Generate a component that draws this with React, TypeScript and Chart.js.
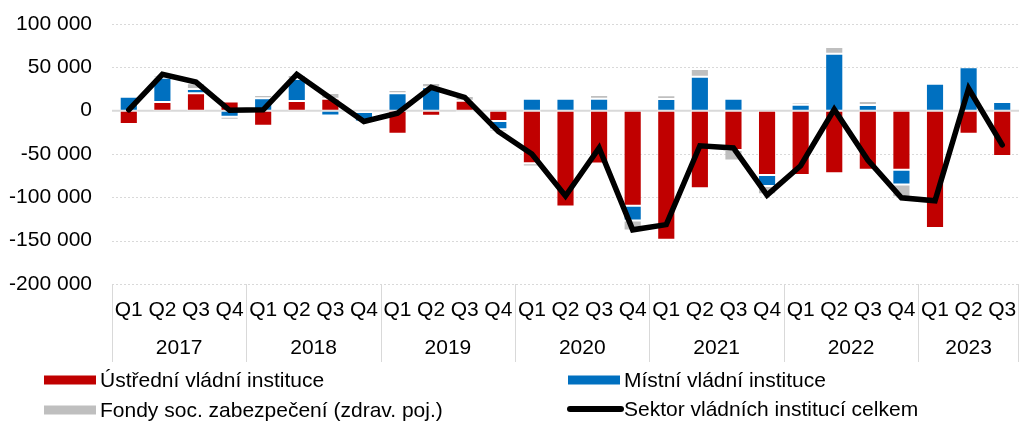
import React, { useEffect, useRef } from "react";
import { Chart, registerables } from "chart.js";

Chart.register(...registerables);

const quarterLabels = [
  "Q1", "Q2", "Q3", "Q4",
  "Q1", "Q2", "Q3", "Q4",
  "Q1", "Q2", "Q3", "Q4",
  "Q1", "Q2", "Q3", "Q4",
  "Q1", "Q2", "Q3", "Q4",
  "Q1", "Q2", "Q3", "Q4",
  "Q1", "Q2", "Q3",
];
const yearLabels = ["2017", "2018", "2019", "2020", "2021", "2022", "2023"];
const quartersPerYear = [4, 4, 4, 4, 4, 4, 3];

const centralGov = [
  -15500, 10000, 20000, 10500,
  -17300, 11200, 13800, -1500,
  -26500, -6000, 11500, -11900,
  -60600, -110600, -61000, -109800,
  -149000, -89400, -45300, -74100,
  -74100, -72100, -68300, -68300,
  -135500, -26500, -52200,
];
const localGov = [
  16000, 28000, 5000, -7000,
  14300, 25300, -5700, -11000,
  20000, 27000, -1500, -9600,
  13800, 13800, 13800, -16900,
  13500, 39200, 13800, -12700,
  6900, 65700, 6600, -16900,
  31000, 50000, 10000,
];
const socialFunds = [
  500, 3000, 6500, -3500,
  3800, 4600, 6500, 0,
  3800, 5000, 5400, -2700,
  -3800, -1900, 4200, -11500,
  4200, 8900, -12300, -9600,
  2700, 7700, 4600, -14600,
  500, 1500, 2300,
];
const totalGov = [
  1000, 42000, 33000, 500,
  1000, 42000, 14500, -12500,
  -3000, 27000, 15400, -24000,
  -50000, -98500, -43000, -137500,
  -131500, -40500, -43000, -97500,
  -63500, 1500, -57000, -100500,
  -104000, 25500, -39500,
];

const seriesNames = [
  "Ústřední vládní instituce",
  "Místní vládní instituce",
  "Fondy soc. zabezpečení (zdrav. poj.)",
  "Sektor vládních institucí celkem",
];

const yMin = -200000;
const yMax = 100000;
const yStep = 50000;

const RED = "#C00000";
const BLUE = "#0070C0";
const GREY = "#BFBFBF";
const BLACK = "#000000";
const GRID = "#D9D9D9";
const FONT = "'Liberation Sans', Arial, sans-serif";
const FONT_SIZE = 21;

function fmt(v: number): string {
  const s = Math.abs(v).toString().replace(/\B(?=(\d{3})+(?!\d))/g, " ");
  return (v < 0 ? "-" : "") + s;
}

const gridPlugin = {
  id: "customGrid",
  beforeDatasetsDraw(chart: any) {
    const { ctx, chartArea, scales } = chart;
    const y = scales.y;
    ctx.save();
    for (let v = yMin; v <= yMax; v += yStep) {
      if (v === 0) continue;
      const py = Math.round(y.getPixelForValue(v)) + 0.5;
      ctx.beginPath();
      ctx.strokeStyle = GRID;
      ctx.lineWidth = 1;
      ctx.setLineDash([2, 2]);
      ctx.moveTo(chartArea.left, py);
      ctx.lineTo(chartArea.right, py);
      ctx.stroke();
    }
    const zy = y.getPixelForValue(0);
    ctx.setLineDash([]);
    ctx.beginPath();
    ctx.strokeStyle = GRID;
    ctx.lineWidth = 2;
    ctx.moveTo(chartArea.left, zy);
    ctx.lineTo(chartArea.right, zy);
    ctx.stroke();
    ctx.restore();
  },
};

const axisLegendPlugin = {
  id: "axisLegend",
  afterDraw(chart: any) {
    const { ctx, chartArea, scales } = chart;
    const x = scales.x;
    const n = quarterLabels.length;
    const cw = (chartArea.right - chartArea.left) / n;
    ctx.save();
    ctx.strokeStyle = GRID;
    ctx.lineWidth = 1;
    ctx.setLineDash([]);
    let idx = 0;
    const bounds: number[] = [0];
    quartersPerYear.forEach((c) => {
      idx += c;
      bounds.push(idx);
    });
    bounds.forEach((b) => {
      let px = chartArea.left + b * cw;
      px = Math.min(Math.round(px) + 0.5, chartArea.right - 0.5);
      ctx.beginPath();
      ctx.moveTo(px, chartArea.bottom);
      ctx.lineTo(px, chartArea.bottom + 78);
      ctx.stroke();
    });
    ctx.fillStyle = "#000";
    ctx.font = `${FONT_SIZE}px ${FONT}`;
    ctx.textAlign = "center";
    ctx.textBaseline = "middle";
    quarterLabels.forEach((q, i) => {
      ctx.fillText(q, x.getPixelForValue(i), chartArea.bottom + 26);
    });
    let start = 0;
    yearLabels.forEach((yr, i) => {
      const c = quartersPerYear[i];
      const mid = chartArea.left + (start + c / 2) * cw;
      ctx.fillText(yr, mid, chartArea.bottom + 64);
      start += c;
    });
    ctx.textAlign = "left";
    const items = [
      { name: seriesNames[0], color: RED, type: "box", x: 44, y: 380 },
      { name: seriesNames[1], color: BLUE, type: "box", x: 568, y: 380 },
      { name: seriesNames[2], color: GREY, type: "box", x: 44, y: 410 },
      { name: seriesNames[3], color: BLACK, type: "line", x: 568, y: 409 },
    ];
    items.forEach((it) => {
      if (it.type === "box") {
        ctx.fillStyle = it.color;
        ctx.fillRect(it.x, it.y - 4.5, 52, 9);
      } else {
        ctx.strokeStyle = it.color;
        ctx.lineWidth = 6;
        ctx.lineCap = "round";
        ctx.beginPath();
        ctx.moveTo(it.x + 2, it.y);
        ctx.lineTo(it.x + 53, it.y);
        ctx.stroke();
      }
      ctx.fillStyle = "#000";
      ctx.fillText(it.name, it.x + 56, it.y + 1);
    });
    ctx.restore();
  },
};

export default function App() {
  const ref = useRef<HTMLCanvasElement | null>(null);
  useEffect(() => {
    document.body.style.margin = "0";
    const canvas = ref.current;
    if (!canvas) return;
    const barCommon = {
      type: "bar" as const,
      stack: "bars",
      order: 1,
      barPercentage: 0.54,
      categoryPercentage: 1,
      borderWidth: 1,
      borderColor: "rgba(255,255,255,0.45)",
      borderSkipped: false,
    };
    const chart = new Chart(canvas, {
      type: "bar",
      data: {
        labels: quarterLabels,
        datasets: [
          {
            type: "line",
            label: seriesNames[3],
            data: totalGov,
            borderColor: BLACK,
            backgroundColor: BLACK,
            borderWidth: 5.5,
            pointRadius: 0,
            borderCapStyle: "round",
            borderJoinStyle: "miter",
            tension: 0,
            stack: "line",
            order: 0,
          } as any,
          { ...barCommon, label: seriesNames[0], data: centralGov, backgroundColor: RED } as any,
          { ...barCommon, label: seriesNames[1], data: localGov, backgroundColor: BLUE } as any,
          { ...barCommon, label: seriesNames[2], data: socialFunds, backgroundColor: GREY } as any,
        ],
      },
      options: {
        responsive: false,
        animation: false,
        layout: { padding: { top: 24, bottom: 137, left: 0, right: 0 } },
        plugins: {
          legend: { display: false },
          tooltip: { enabled: false },
        },
        scales: {
          x: {
            display: false,
            stacked: true,
            offset: true,
          },
          y: {
            stacked: true,
            min: yMin,
            max: yMax,
            grid: { display: false, drawTicks: false },
            border: { display: false },
            ticks: {
              stepSize: yStep,
              padding: 20,
              color: "#000",
              font: { family: FONT, size: FONT_SIZE },
              callback: (v: any) => fmt(Number(v)),
            },
            afterFit: (scale: any) => {
              scale.width = 112;
              scale.paddingTop = 0;
              scale.paddingBottom = 0;
            },
          },
        },
      },
      plugins: [gridPlugin, axisLegendPlugin],
    });
    return () => chart.destroy();
  }, []);
  return (
    <div style={{ position: "absolute", left: 0, top: 0, width: 1019, height: 421 }}>
      <canvas ref={ref} width={1019} height={421} />
    </div>
  );
}
